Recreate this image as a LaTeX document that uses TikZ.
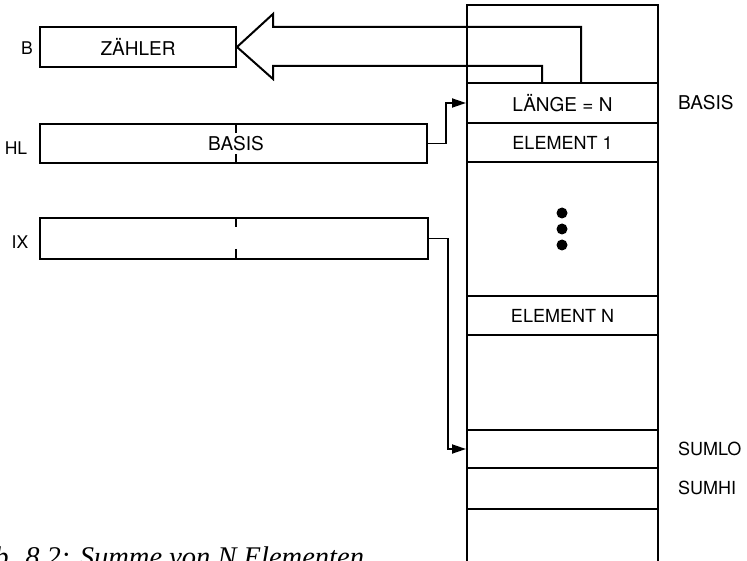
\documentclass[tikz,border=0pt]{standalone}
\usepackage{fontspec}
\setmainfont{TeX Gyre Heros}
\newfontfamily\capfont{Liberation Serif}
\usetikzlibrary{arrows.meta,calc}
\begin{document}
\begin{tikzpicture}[x=1pt,y=-1pt,
  line width=2pt, line join=miter,
  reg/.style={draw, inner sep=0pt, font=\fontsize{19}{21}\selectfont},
  cell/.style={draw, inner sep=0pt, minimum width=191pt, font=\fontsize{18}{20}\selectfont},
  lbl/.style={inner sep=0pt, font=\fontsize{17.5}{19}\selectfont},
  side/.style={inner sep=0pt, anchor=west, font=\fontsize{18}{20}\selectfont},
  ptr/.style={line width=1.8pt, -{Triangle[length=14pt,width=9pt]}}]
\useasboundingbox (0,0) rectangle (747,561);
% registers
\node[reg, minimum width=196pt, minimum height=40pt] (zaehler) at (138,47) {ZÄHLER};
\node[reg, minimum width=387pt, minimum height=39pt] (hl) at (233.5,143.5) {};
\node[reg, minimum width=388pt, minimum height=41pt] (ix) at (234,238.5) {};
\node[reg, draw=none] (basisin) at (236,144) {BASIS};
\draw (236,124) -- (236,133) (236,154) -- (236,163);
\draw (236,218) -- (236,227) (236,249) -- (236,259);
\node[lbl] (lb) at (27,48) {B};
\node[lbl] (lhl) at (16,148) {HL};
\node[lbl] (lix) at (20,242) {IX};
% memory column
\draw (467,575) -- (467,5) -- (658,5) -- (658,575);
\node[cell, minimum height=40pt, font=\fontsize{19}{21}\selectfont] (len) at (562.5,103) {LÄNGE = N};
\node[cell, minimum height=39pt] (el1) at (562.5,142.5) {ELEMENT 1};
\node[cell, minimum height=39pt] (eln) at (562.5,315.5) {ELEMENT N};
\node[cell, minimum height=38pt] (sumlo) at (562.5,449) {};
\node[cell, minimum height=41pt] (sumhi) at (562.5,488.5) {};
\fill (562,213) circle (5.5pt) (562,229) circle (5.5pt) (562,245) circle (5.5pt);
\node[side, font=\fontsize{19}{21}\selectfont] (lbasis) at (677,103) {BASIS};
\node[side] (lsumlo) at (677,449) {SUMLO};
\node[side] (lsumhi) at (677,488) {SUMHI};
% big hollow arrow
\coordinate (p1) at (581,83);
\coordinate (p2) at (542,83);
\draw (p1) |- (273,27) -- (273,14) -- (zaehler.east) -- (273,79) -- (273,66) -| (p2);
% pointers
\draw[ptr] (hl.east) -- ++(18,0) |- (len.west);
\draw[ptr] (ix.east) -- ++(19,0) |- (sumlo.west);
% caption
\node[inner sep=0pt, anchor=base east, font=\capfont\itshape\fontsize{28.5}{30}\selectfont] (cap) at (365,566) {Abb. 8.2: Summe von N Elementen};
\end{tikzpicture}
\end{document}
